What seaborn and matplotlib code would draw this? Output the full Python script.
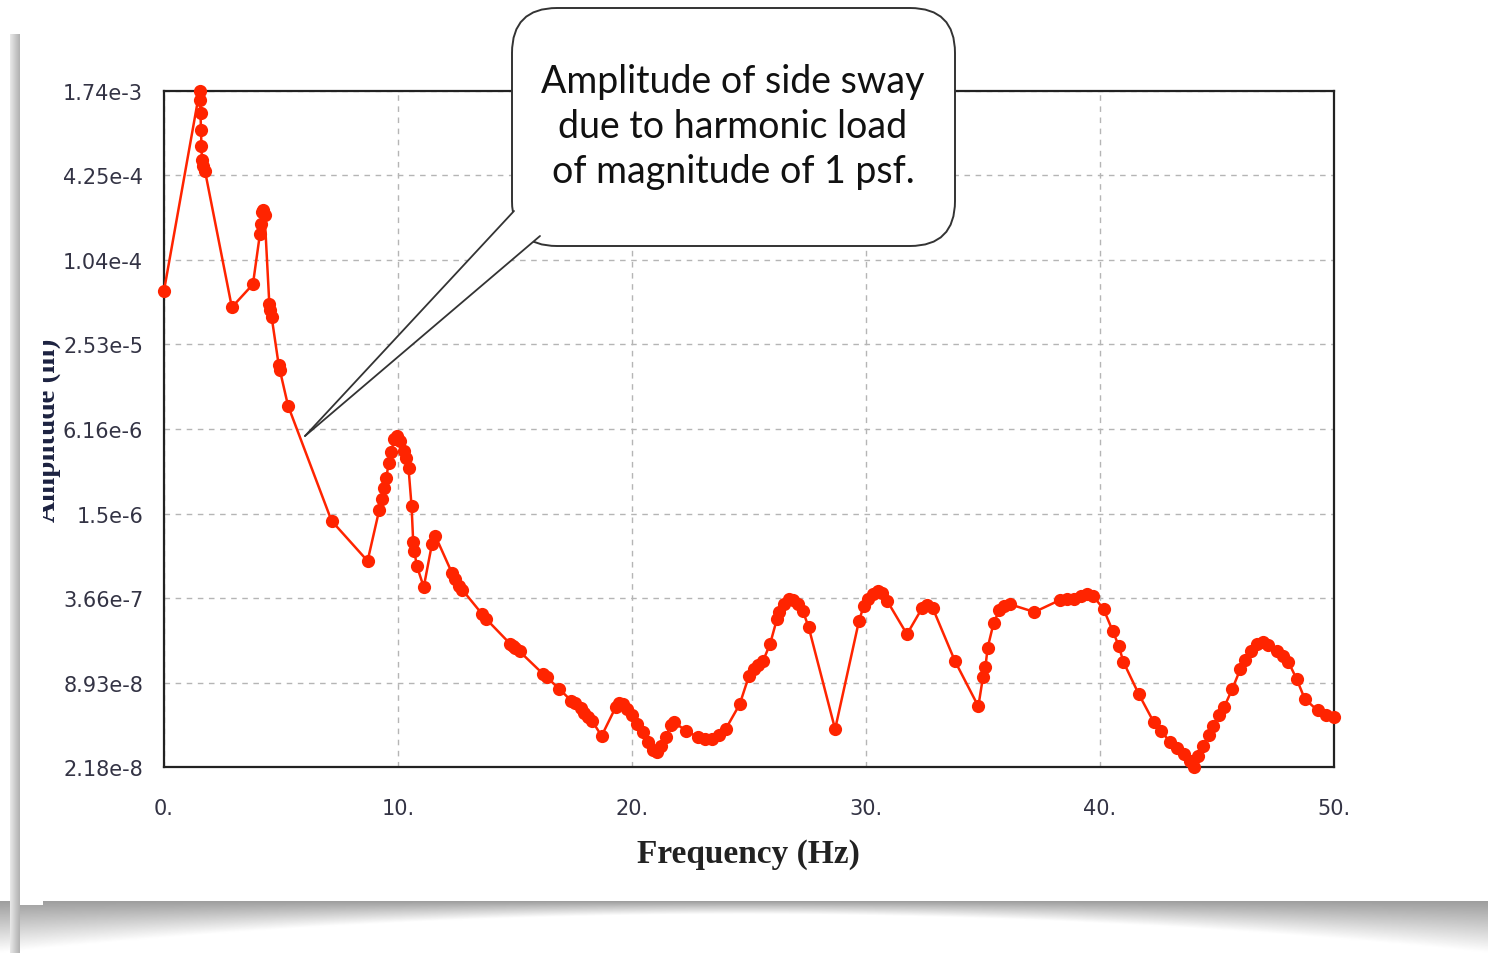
import numpy as np
import pandas as pd
import matplotlib
matplotlib.use("Agg")
import matplotlib.pyplot as plt
import seaborn as sns
from matplotlib.patches import FancyBboxPatch, Polygon, Rectangle
from matplotlib.lines import Line2D

# ===============================
# Data
# ===============================
freq_hz = [
    0.0, 1.52, 1.54, 1.56, 1.58, 1.60, 1.62, 1.65, 1.75, 2.9, 3.8,
    4.1, 4.15, 4.2, 4.25, 4.3, 4.5, 4.55, 4.6, 4.9, 4.95, 5.3,
    7.16, 8.7, 9.2, 9.3, 9.4, 9.5, 9.6, 9.7, 9.85, 9.95, 10.1, 10.25,
    10.35, 10.45, 10.58, 10.65, 10.7, 10.8, 11.1, 11.45, 11.6, 12.3,
    12.45, 12.6, 12.75, 13.6, 13.75, 14.8, 14.9, 15.0, 15.2, 16.2, 16.35,
    16.9, 17.4, 17.55, 17.8, 17.95, 18.1, 18.3, 18.7, 19.3, 19.45, 19.6,
    19.8, 20.0, 20.2, 20.45, 20.7, 20.9, 21.05, 21.25, 21.45, 21.65,
    21.8, 22.3, 22.8, 23.1, 23.4, 23.7, 24.0, 24.6, 25.0, 25.2, 25.4,
    25.6, 25.9, 26.2, 26.3, 26.5, 26.7, 26.9, 27.1, 27.3, 27.55,
    28.68, 29.7, 29.9, 30.1, 30.3, 30.5, 30.7, 30.9, 31.75, 32.4,
    32.6, 32.85, 33.8, 34.8, 35.0, 35.1, 35.2, 35.45, 35.7, 35.9,
    36.15, 37.2, 38.3, 38.6, 38.9, 39.2, 39.45, 39.7, 40.15, 40.55,
    40.8, 41.0, 41.65, 42.3, 42.6, 43.0, 43.3, 43.6, 43.85, 44.0,
    44.2, 44.4, 44.65, 44.85, 45.1, 45.3, 45.65, 46.0, 46.2, 46.45,
    46.7, 46.95, 47.2, 47.55, 47.8, 48.05, 48.4, 48.75, 49.3, 49.65,
    50.0,
]
amplitude_in = [
    6.2e-5, 1.74e-3, 1.5e-3, 1.2e-3, 9.0e-4, 7.0e-4, 5.5e-4, 5.0e-4, 4.6e-4, 4.7e-5, 6.9e-5,
    1.6e-4, 1.9e-4, 2.3e-4, 2.4e-4, 2.2e-4, 5.0e-5, 4.5e-5, 4.0e-5, 1.8e-5, 1.65e-5, 9.1e-6,
    1.33e-6, 6.8e-7, 1.6e-6, 1.9e-6, 2.3e-6, 2.7e-6, 3.5e-6, 4.2e-6, 5.2e-6, 5.5e-6, 5.0e-6, 4.3e-6,
    3.8e-6, 3.2e-6, 1.7e-6, 9.3e-7, 8.0e-7, 6.3e-7, 4.4e-7, 9.0e-7, 1.03e-6, 5.6e-7,
    5.0e-7, 4.5e-7, 4.2e-7, 2.8e-7, 2.6e-7, 1.7e-7, 1.65e-7, 1.6e-7, 1.5e-7, 1.03e-7, 9.8e-8,
    8.0e-8, 6.6e-8, 6.3e-8, 5.8e-8, 5.4e-8, 5.0e-8, 4.7e-8, 3.66e-8, 5.9e-8, 6.3e-8, 6.2e-8,
    5.7e-8, 5.2e-8, 4.5e-8, 3.9e-8, 3.3e-8, 2.9e-8, 2.8e-8, 3.1e-8, 3.6e-8, 4.4e-8,
    4.6e-8, 4.0e-8, 3.6e-8, 3.5e-8, 3.5e-8, 3.7e-8, 4.1e-8, 6.2e-8, 1.0e-7, 1.12e-7, 1.2e-7,
    1.28e-7, 1.7e-7, 2.6e-7, 2.9e-7, 3.3e-7, 3.6e-7, 3.55e-7, 3.3e-7, 2.95e-7, 2.25e-7,
    4.1e-8, 2.5e-7, 3.2e-7, 3.6e-7, 3.9e-7, 4.1e-7, 4.0e-7, 3.5e-7, 2.0e-7, 3.1e-7,
    3.25e-7, 3.1e-7, 1.28e-7, 6.0e-8, 9.8e-8, 1.15e-7, 1.6e-7, 2.4e-7, 3.0e-7, 3.2e-7,
    3.3e-7, 2.9e-7, 3.55e-7, 3.6e-7, 3.6e-7, 3.8e-7, 3.9e-7, 3.8e-7, 3.05e-7, 2.1e-7,
    1.65e-7, 1.26e-7, 7.4e-8, 4.6e-8, 4.0e-8, 3.3e-8, 3.0e-8, 2.7e-8, 2.4e-8, 2.18e-8,
    2.6e-8, 3.1e-8, 3.7e-8, 4.3e-8, 5.2e-8, 5.9e-8, 8.0e-8, 1.12e-7, 1.3e-7, 1.52e-7,
    1.7e-7, 1.75e-7, 1.68e-7, 1.5e-7, 1.38e-7, 1.26e-7, 9.5e-8, 6.8e-8, 5.6e-8, 5.2e-8,
    5.0e-8,
]

y_ticks = [2.18e-8, 8.93e-8, 3.66e-7, 1.5e-6, 6.16e-6, 2.53e-5, 1.04e-4, 4.25e-4, 1.74e-3]
y_tick_labels = ["2.18e-8", "8.93e-8", "3.66e-7", "1.5e-6", "6.16e-6",
                 "2.53e-5", "1.04e-4", "4.25e-4", "1.74e-3"]
x_ticks = [0, 10, 20, 30, 40, 50]
x_tick_labels = ["0.", "10.", "20.", "30.", "40.", "50."]

callout_text = "Amplitude of side sway\ndue to harmonic load\nof magnitude of 1 psf."

df = pd.DataFrame({"freq": freq_hz, "amp": amplitude_in})

# ===============================
# Figure and axes
# ===============================
sns.set_style("white")
W, H = 1488, 954
fig = plt.figure(figsize=(W / 100, H / 100), dpi=100)
fig.patch.set_facecolor("white")

ax = fig.add_axes([164 / W, 1 - 768 / H, (1334 - 164) / W, (768 - 92) / H])
ax.set_yscale("log")

sns.lineplot(
    data=df, x="freq", y="amp", ax=ax,
    estimator=None, sort=False,
    color="#ff2400", linewidth=1.8,
    marker="o", markersize=9.5, markeredgewidth=0,
    zorder=5, clip_on=False,
)

ax.set_xlim(0, 50)
ax.set_ylim(2.18e-8, 1.74e-3)
ax.set_xticks(x_ticks)
ax.set_xticklabels(x_tick_labels)
ax.yaxis.set_minor_locator(matplotlib.ticker.NullLocator())
ax.set_yticks(y_ticks)
ax.set_yticklabels(y_tick_labels)
ax.set_xlabel("")
ax.set_ylabel("")

for lab in ax.get_xticklabels() + ax.get_yticklabels():
    lab.set_family(["DejaVu Sans"])
    lab.set_fontsize(15)
    lab.set_color("#333344")

ax.tick_params(axis="y", direction="out", length=11, width=1, color="#999999", pad=4)
ax.tick_params(axis="x", direction="out", length=14, width=1, color="#bbbbbb", pad=8)

ax.grid(True, which="major", color="#b5b5b5", linestyle=(0, (4, 4)), linewidth=1)
for sp in ax.spines.values():
    sp.set_visible(True)
    sp.set_color("#222222")
    sp.set_linewidth(1.6)

fig.text(748 / W, 1 - 855 / H, "Frequency (Hz)", ha="center", va="center",
         fontsize=24, fontweight="bold", family=["Liberation Serif", "DejaVu Serif"],
         color="#222222")

# y label, clipped at left like the screenshot
fig.text(47 / W, 1 - 430 / H, "Amplitude (in)", ha="center", va="center",
         rotation=90, fontsize=21, fontweight="bold",
         family=["Liberation Serif", "DejaVu Serif"], color="#1c2240", zorder=1)
fig.patches.append(Rectangle((20 / W, 0.05), 23 / W, 0.9, transform=fig.transFigure,
                             facecolor="white", edgecolor="none", zorder=2))

# ===============================
# Callout bubble (pixel coords from top-left -> inches)
# ===============================
def px(x, y):
    return (x / 100, (H - y) / 100)

tr = fig.dpi_scale_trans
box = FancyBboxPatch(px(512, 247), (955 - 512) / 100, (247 - 9) / 100,
                     boxstyle="round,pad=0,rounding_size=0.45",
                     transform=tr, facecolor="white", edgecolor="#333333",
                     linewidth=1.4, zorder=10)
fig.patches.append(box)

tip = px(305, 437)
base_a = px(514, 212)
base_b = px(540, 237)
tail = Polygon([base_a, tip, base_b, px(560, 205)], closed=True, transform=tr,
               facecolor="white", edgecolor="none", zorder=11)
fig.patches.append(tail)
for b in (base_a, base_b):
    fig.lines.append(Line2D([b[0], tip[0]], [b[1], tip[1]], transform=tr,
                            color="#333333", linewidth=1.3, zorder=12))

fig.text(733 / W, 1 - 127 / H, callout_text, ha="center", va="center",
         fontsize=27, family=["Lato", "DejaVu Sans"], color="#111111",
         linespacing=1.3, zorder=13)

# ===============================
# Card shadow decoration
# ===============================
sh = fig.add_axes([0, 0, 1, 52 / H], zorder=-1)
cols = np.linspace(-1, 1, 400)
rows = np.linspace(0, 1, 60)[:, None]
depth = 0.25 + 0.75 * cols[None, :] ** 2
shade = np.clip(rows / depth, 0, 1)
img = 0.62 + 0.38 * shade
sh.imshow(img, cmap="gray", vmin=0, vmax=1, aspect="auto", extent=[0, 1, 0, 1])
sh.axis("off")
sh2 = fig.add_axes([10 / W, 0, 10 / W, 1 - 35 / H], zorder=-1)
sh2.imshow(np.linspace(0.9, 0.7, 10)[None, :], cmap="gray", vmin=0, vmax=1,
           aspect="auto", extent=[0, 1, 0, 1])
sh2.axis("off")

fig.savefig("out.png", dpi=100)
plt.close(fig)
